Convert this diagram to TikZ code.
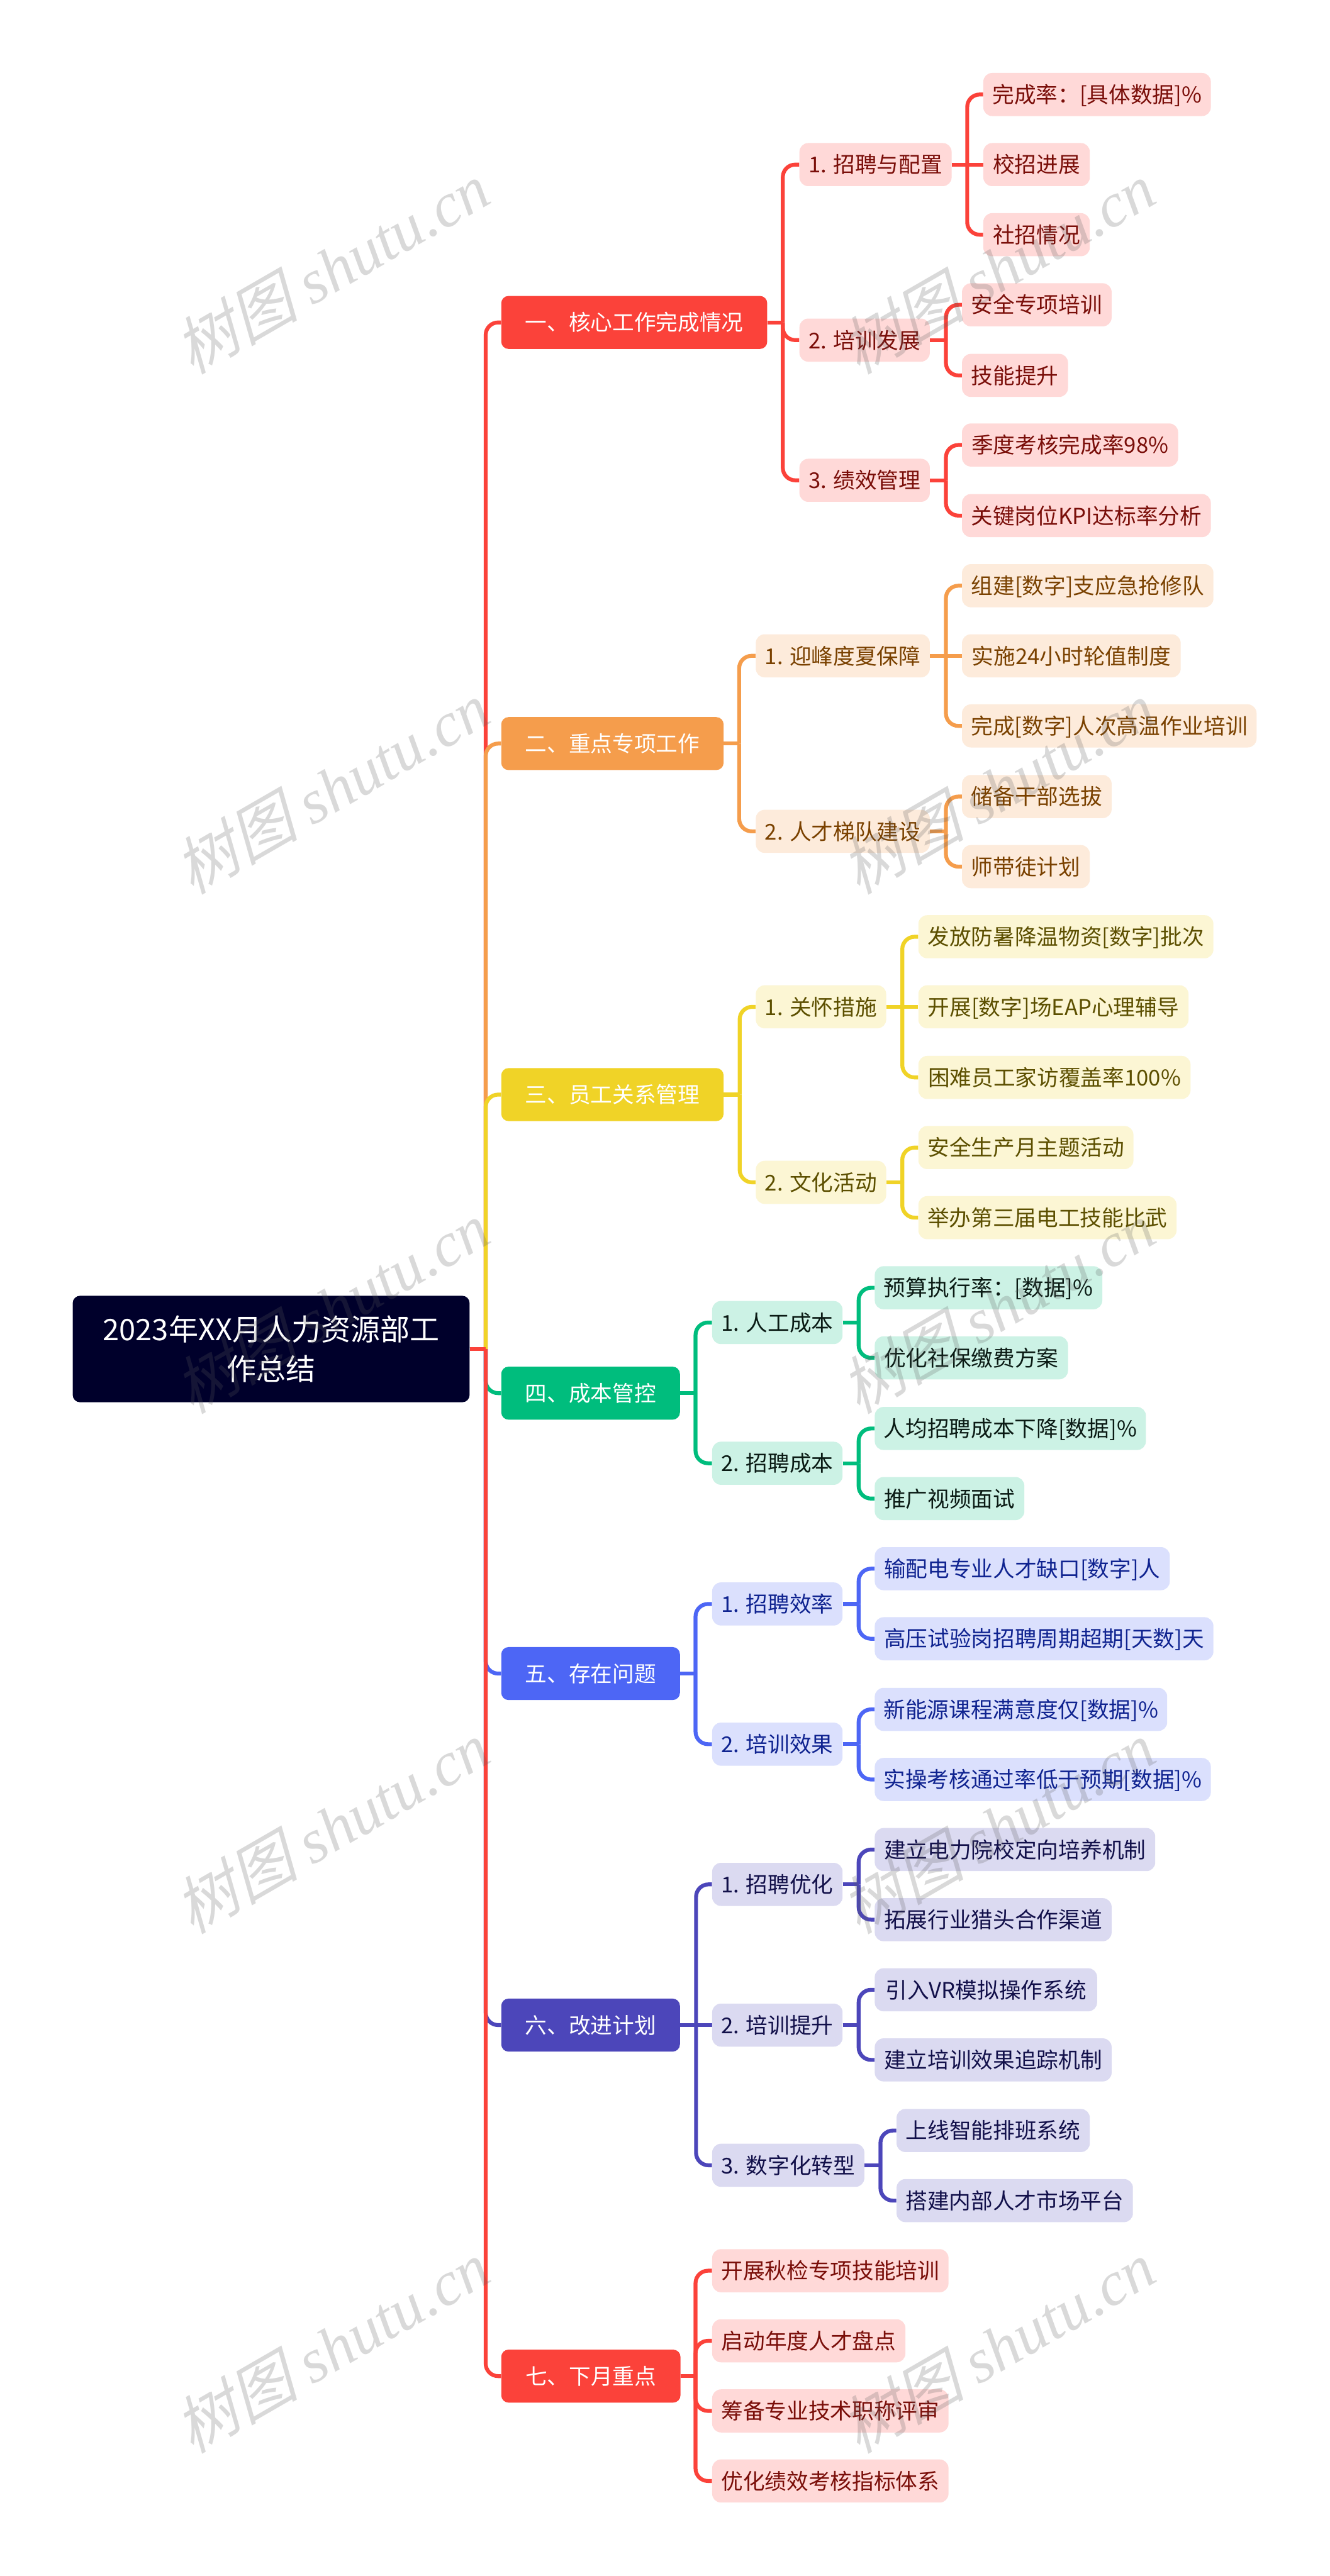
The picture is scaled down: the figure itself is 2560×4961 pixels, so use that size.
\documentclass[tikz,border=0pt]{standalone}
\usepackage{fontspec}
\setmainfont{Noto Sans CJK SC}
\newfontfamily\wmcjk[FakeSlant=0.25]{Noto Sans CJK SC}
\newfontfamily\wmlat{Liberation Serif}
\usetikzlibrary{backgrounds}
\definecolor{lA}{HTML}{FB423A}\definecolor{fA}{HTML}{FFD9D8}\definecolor{tA}{HTML}{7A0E09}
\definecolor{lB}{HTML}{F59D4C}\definecolor{fB}{HTML}{FDEBDB}\definecolor{tB}{HTML}{7A4100}
\definecolor{lC}{HTML}{F0D327}\definecolor{fC}{HTML}{FCF6D4}\definecolor{tC}{HTML}{5C4F00}
\definecolor{lD}{HTML}{00BD7D}\definecolor{fD}{HTML}{CCF2E5}\definecolor{tD}{HTML}{0A1A14}
\definecolor{lE}{HTML}{4D66F5}\definecolor{fE}{HTML}{DBE0FD}\definecolor{tE}{HTML}{0F2390}
\definecolor{lF}{HTML}{4C46BA}\definecolor{fF}{HTML}{DBDAF1}\definecolor{tF}{HTML}{12104A}
\definecolor{rootc}{HTML}{00002B}
\pgfdeclarelayer{paper}\pgfdeclarelayer{links}\pgfsetlayers{paper,links,main}
\tikzset{
  box/.style={rectangle,inner sep=0pt,align=center,text height=18.5pt,text depth=2.5pt,font=\fontsize{21}{25}\selectfont},
  rootbox/.style={rectangle,rounded corners=7pt,inner sep=0pt,align=center,fill=rootc,text=white,font=\fontsize{28.5}{38}\selectfont},
  head/.style={box,rounded corners=7pt,fill=l#1,text=white,minimum height=51pt},
  sub/.style={box,rounded corners=8.5pt,fill=f#1,text=t#1,minimum height=41.5pt},
  link/.style={draw=l#1,line width=3.75pt,rounded corners=12pt},
  wm/.style={rotate=30,opacity=0.23,text=black!64,inner sep=0pt},
}
% name, left, right, centre y, style, text
\newcommand{\nd}[6]{%
  \pgfmathsetmacro{\boxw}{(#3-#2)*0.5}%
  \node[#5,minimum width=\boxw pt] (#1) at ({(#2+#3)/2},#4) {#6};}
% colour, parent, trunk, child
\newcommand{\lnk}[4]{%
  \draw[link=#1] (#2.east) -- (#2.east -| #3);
  \draw[link=#1] (#2.east -| #3) -- (#4.west -| #3) -- (#4.west);}
\newcommand{\lns}[3]{\draw[link=#1] (#2.east) -- (#3.west);}
\newcommand{\wmk}[3]{\node[wm] (#1) at (#2,#3) {\fontsize{60}{60}\selectfont{\wmcjk 树图} {\wmlat\itshape shutu.cn}};}
\begin{document}
\begin{tikzpicture}[x=0.5pt,y=-0.5pt]
\useasboundingbox (0,0) rectangle (2560,4961);
\begin{pgfonlayer}{paper}\fill[white] (0,0) rectangle (2560,4961);\end{pgfonlayer}

\node[rootbox,minimum width=382pt,minimum height=102.5pt] (root) at (522,2598) {2023年XX月人力资源部工\\作总结};

\coordinate (T0) at (935,0);
\coordinate (TA) at (1507,0); \coordinate (TB) at (1423,0); \coordinate (TC) at (1424,0);
\coordinate (TD) at (1339,0); \coordinate (TE) at (1339,0); \coordinate (TF) at (1340,0); \coordinate (TG) at (1339,0);
\coordinate (TA1) at (1862,0); \coordinate (TA2) at (1821,0); \coordinate (TA3) at (1821,0);
\coordinate (TB1) at (1821,0); \coordinate (TB2) at (1821,0);
\coordinate (TC1) at (1737,0); \coordinate (TC2) at (1737,0);
\coordinate (TD1) at (1653,0); \coordinate (TD2) at (1653,0);
\coordinate (TE1) at (1653,0); \coordinate (TE2) at (1653,0);
\coordinate (TF1) at (1653,0); \coordinate (TF2) at (1653,0); \coordinate (TF3) at (1695,0);

% Section one
\nd{a}{965}{1477}{621}{head=A}{一、核心工作完成情况}
\nd{a1}{1539}{1832}{317}{sub=A}{1. 招聘与配置}
\nd{a2}{1539}{1790}{655}{sub=A}{2. 培训发展}
\nd{a3}{1539}{1790}{925}{sub=A}{3. 绩效管理}
\nd{a11}{1893}{2331}{182}{sub=A}{完成率：[具体数据]\%}
\nd{a12}{1893}{2098}{317}{sub=A}{校招进展}
\nd{a13}{1893}{2098}{452}{sub=A}{社招情况}
\nd{a21}{1852}{2140}{587}{sub=A}{安全专项培训}
\nd{a22}{1852}{2056}{723}{sub=A}{技能提升}
\nd{a31}{1852}{2268}{857}{sub=A}{季度考核完成率98\%}
\nd{a32}{1852}{2331}{993}{sub=A}{关键岗位KPI达标率分析}
% Section two
\nd{b}{965}{1393}{1432}{head=B}{二、重点专项工作}
\nd{b1}{1455}{1790}{1263}{sub=B}{1. 迎峰度夏保障}
\nd{b2}{1455}{1790}{1601}{sub=B}{2. 人才梯队建设}
\nd{b11}{1852}{2336}{1128}{sub=B}{组建[数字]支应急抢修队}
\nd{b12}{1852}{2273}{1263}{sub=B}{实施24小时轮值制度}
\nd{b13}{1852}{2419}{1398}{sub=B}{完成[数字]人次高温作业培训}
\nd{b21}{1852}{2140}{1534}{sub=B}{储备干部选拔}
\nd{b22}{1852}{2098}{1669}{sub=B}{师带徒计划}
% Section three
\nd{c}{965}{1393}{2108}{head=C}{三、员工关系管理}
\nd{c1}{1455}{1706}{1939}{sub=C}{1. 关怀措施}
\nd{c2}{1455}{1706}{2277}{sub=C}{2. 文化活动}
\nd{c11}{1768}{2336}{1804}{sub=C}{发放防暑降温物资[数字]批次}
\nd{c12}{1768}{2288}{1939}{sub=C}{开展[数字]场EAP心理辅导}
\nd{c13}{1768}{2292}{2075}{sub=C}{困难员工家访覆盖率100\%}
\nd{c21}{1768}{2182}{2210}{sub=C}{安全生产月主题活动}
\nd{c22}{1768}{2265}{2345}{sub=C}{举办第三届电工技能比武}
% Section four
\nd{d}{965}{1309}{2683}{head=D}{四、成本管控}
\nd{d1}{1371}{1622}{2547}{sub=D}{1. 人工成本}
\nd{d2}{1371}{1622}{2818}{sub=D}{2. 招聘成本}
\nd{d11}{1684}{2122}{2480}{sub=D}{预算执行率：[数据]\%}
\nd{d12}{1684}{2056}{2615}{sub=D}{优化社保缴费方案}
\nd{d21}{1684}{2206}{2751}{sub=D}{人均招聘成本下降[数据]\%}
\nd{d22}{1684}{1972}{2886}{sub=D}{推广视频面试}
% Section five
\nd{e}{965}{1309}{3223}{head=E}{五、存在问题}
\nd{e1}{1371}{1622}{3089}{sub=E}{1. 招聘效率}
\nd{e2}{1371}{1622}{3359}{sub=E}{2. 培训效果}
\nd{e11}{1684}{2252}{3021}{sub=E}{输配电专业人才缺口[数字]人}
\nd{e12}{1684}{2336}{3156}{sub=E}{高压试验岗招聘周期超期[天数]天}
\nd{e21}{1684}{2247}{3292}{sub=E}{新能源课程满意度仅[数据]\%}
\nd{e22}{1684}{2331}{3427}{sub=E}{实操考核通过率低于预期[数据]\%}
% Section six
\nd{f}{965}{1309}{3900}{head=F}{六、改进计划}
\nd{f1}{1371}{1622}{3629}{sub=F}{1. 招聘优化}
\nd{f2}{1371}{1622}{3900}{sub=F}{2. 培训提升}
\nd{f3}{1371}{1664}{4170}{sub=F}{3. 数字化转型}
\nd{f11}{1684}{2224}{3562}{sub=F}{建立电力院校定向培养机制}
\nd{f12}{1684}{2140}{3697}{sub=F}{拓展行业猎头合作渠道}
\nd{f21}{1684}{2112}{3832}{sub=F}{引入VR模拟操作系统}
\nd{f22}{1684}{2140}{3967}{sub=F}{建立培训效果追踪机制}
\nd{f31}{1726}{2098}{4103}{sub=F}{上线智能排班系统}
\nd{f32}{1726}{2181}{4238}{sub=F}{搭建内部人才市场平台}
% Section seven
\nd{g}{965}{1310}{4576}{head=A}{七、下月重点}
\nd{g1}{1371}{1826}{4373}{sub=A}{开展秋检专项技能培训}
\nd{g2}{1371}{1743}{4508}{sub=A}{启动年度人才盘点}
\nd{g3}{1371}{1826}{4643}{sub=A}{筹备专业技术职称评审}
\nd{g4}{1371}{1826}{4778}{sub=A}{优化绩效考核指标体系}

\begin{pgfonlayer}{links}
\lnk{A}{root}{T0}{a}
\lnk{B}{root}{T0}{b}
\lnk{C}{root}{T0}{c}
\lnk{D}{root}{T0}{d}
\lnk{E}{root}{T0}{e}
\lnk{F}{root}{T0}{f}
\lnk{A}{root}{T0}{g}
\lnk{A}{a}{TA}{a1}\lnk{A}{a}{TA}{a2}\lnk{A}{a}{TA}{a3}
\lnk{A}{a1}{TA1}{a11}\lns{A}{a1}{a12}\lnk{A}{a1}{TA1}{a13}
\lnk{A}{a2}{TA2}{a21}\lnk{A}{a2}{TA2}{a22}
\lnk{A}{a3}{TA3}{a31}\lnk{A}{a3}{TA3}{a32}
\lnk{B}{b}{TB}{b1}\lnk{B}{b}{TB}{b2}
\lnk{B}{b1}{TB1}{b11}\lns{B}{b1}{b12}\lnk{B}{b1}{TB1}{b13}
\lnk{B}{b2}{TB2}{b21}\lnk{B}{b2}{TB2}{b22}
\lnk{C}{c}{TC}{c1}\lnk{C}{c}{TC}{c2}
\lnk{C}{c1}{TC1}{c11}\lns{C}{c1}{c12}\lnk{C}{c1}{TC1}{c13}
\lnk{C}{c2}{TC2}{c21}\lnk{C}{c2}{TC2}{c22}
\lnk{D}{d}{TD}{d1}\lnk{D}{d}{TD}{d2}
\lnk{D}{d1}{TD1}{d11}\lnk{D}{d1}{TD1}{d12}
\lnk{D}{d2}{TD2}{d21}\lnk{D}{d2}{TD2}{d22}
\lnk{E}{e}{TE}{e1}\lnk{E}{e}{TE}{e2}
\lnk{E}{e1}{TE1}{e11}\lnk{E}{e1}{TE1}{e12}
\lnk{E}{e2}{TE2}{e21}\lnk{E}{e2}{TE2}{e22}
\lnk{F}{f}{TF}{f1}\lns{F}{f}{f2}\lnk{F}{f}{TF}{f3}
\lnk{F}{f1}{TF1}{f11}\lnk{F}{f1}{TF1}{f12}
\lnk{F}{f2}{TF2}{f21}\lnk{F}{f2}{TF2}{f22}
\lnk{F}{f3}{TF3}{f31}\lnk{F}{f3}{TF3}{f32}
\lnk{A}{g}{TG}{g1}\lnk{A}{g}{TG}{g2}\lnk{A}{g}{TG}{g3}\lnk{A}{g}{TG}{g4}
\end{pgfonlayer}

\wmk{w1}{638}{516}\wmk{w2}{1920}{516}
\wmk{w3}{638}{1517}\wmk{w4}{1920}{1517}
\wmk{w5}{638}{2518}\wmk{w6}{1920}{2518}
\wmk{w7}{638}{3519}\wmk{w8}{1920}{3519}
\wmk{w9}{638}{4520}\wmk{w10}{1920}{4520}
\end{tikzpicture}
\end{document}
